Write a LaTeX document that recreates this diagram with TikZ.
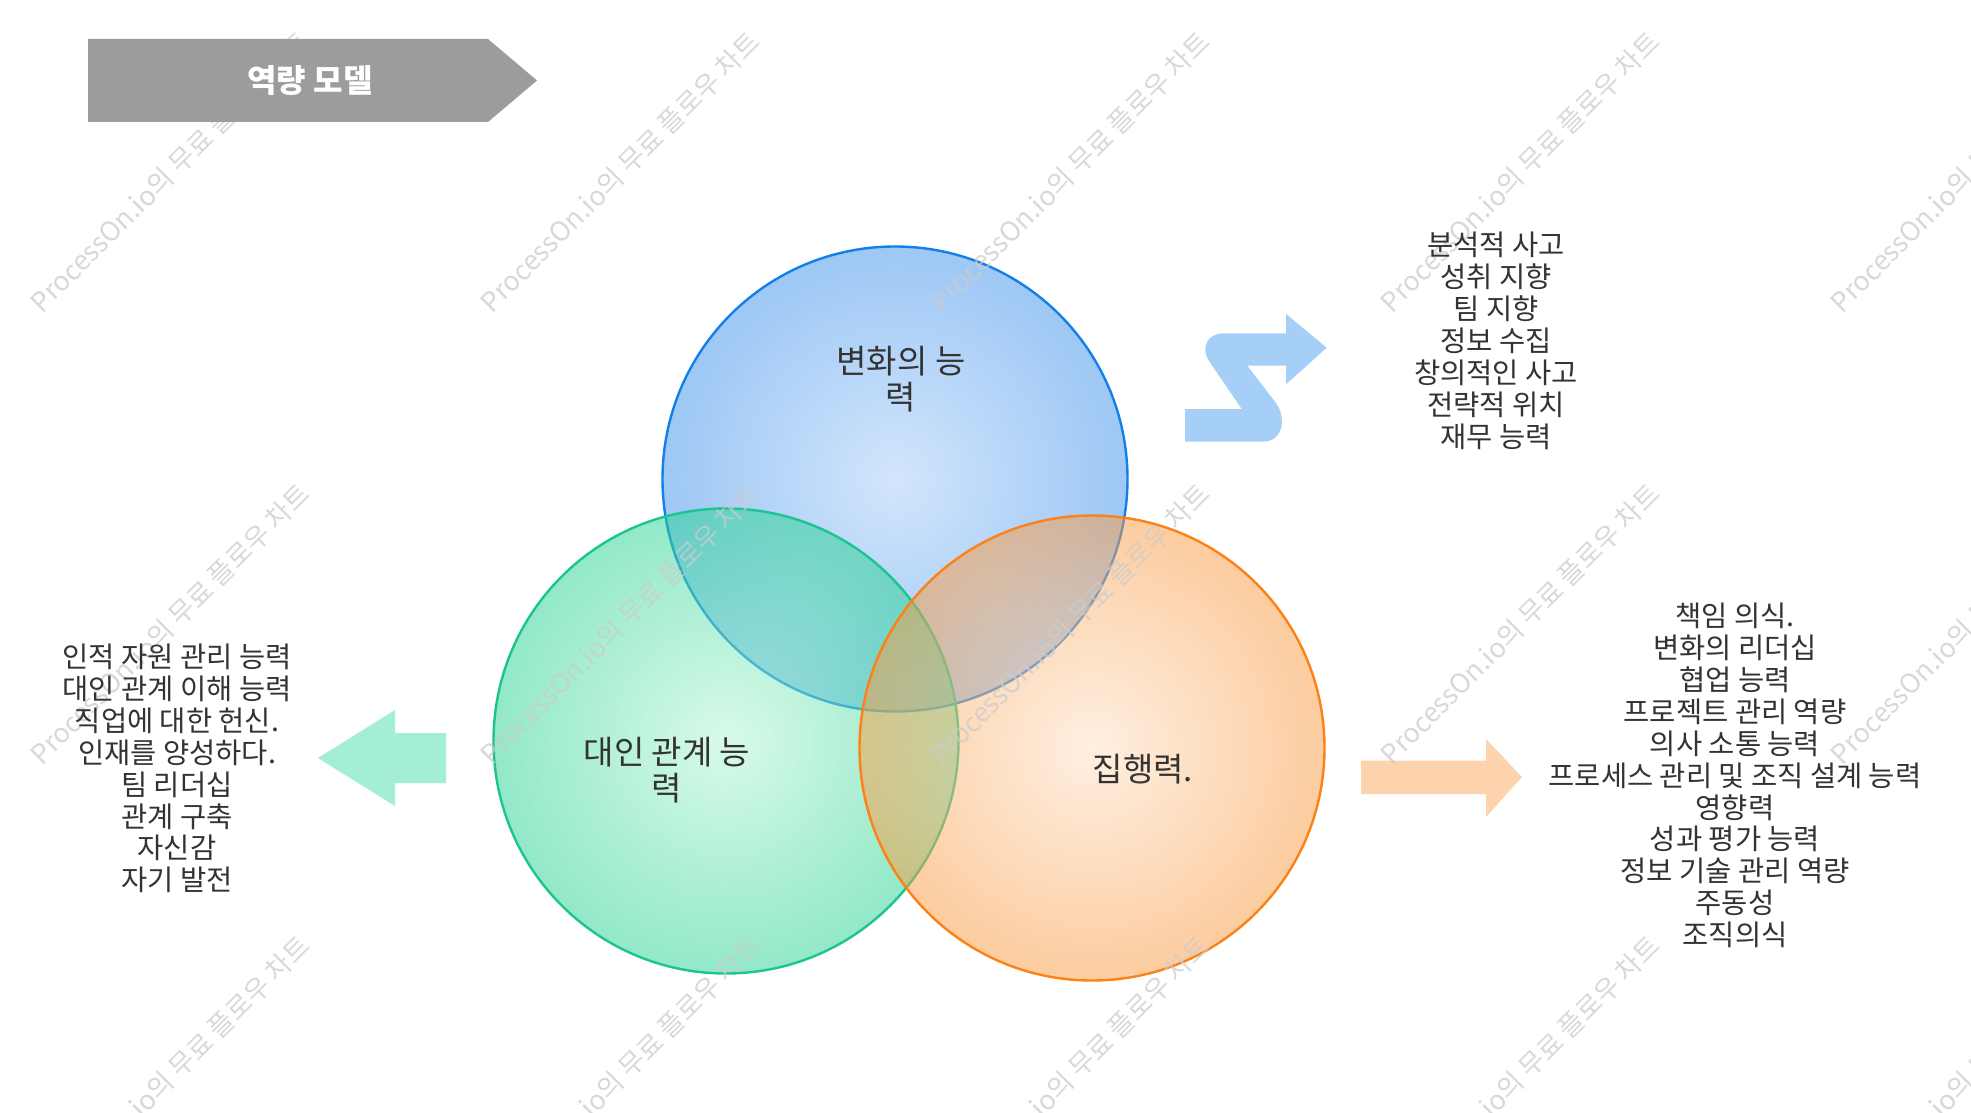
\documentclass[tikz,border=0pt]{standalone}
\usepackage{fontspec}
\setmainfont{Noto Sans CJK KR}
\definecolor{txt}{HTML}{333333}
\definecolor{bannerGray}{HTML}{9D9C9A}
\definecolor{blueIn}{HTML}{A5CDF9}
\definecolor{blueOut}{HTML}{3D91ED}
\definecolor{blueLine}{HTML}{1380E8}
\definecolor{greenIn}{HTML}{B3F7D5}
\definecolor{greenOut}{HTML}{25D391}
\definecolor{greenLine}{HTML}{1CC48F}
\definecolor{orangeIn}{HTML}{FFE1C5}
\definecolor{orangeOut}{HTML}{FB9B41}
\definecolor{orangeLine}{HTML}{FD8114}
\definecolor{sArrowCol}{HTML}{A6CFF7}
\definecolor{gArrowCol}{HTML}{A3EED4}
\definecolor{oArrowCol}{HTML}{FDD3AE}
\definecolor{wmCol}{HTML}{CCCCCC}
\begin{document}
\begin{tikzpicture}[x=1pt,y=-1pt,
  listtext/.style={text=txt, align=center, font=\fontsize{28.5}{31.9}\selectfont, inner sep=0pt},
  circlabel/.style={text=txt, align=center, font=\fontsize{33}{36.5}\selectfont, inner sep=0pt},
  venn/.style={circle, minimum size=465pt, inner sep=0pt, line width=2.4pt, fill opacity=0.5, draw opacity=1},
  watermark/.style={text=wmCol, text opacity=0.75, rotate=45, font=\fontsize{27}{30}\selectfont, inner sep=0pt},
  titletext/.style={text=white, font=\fontsize{32}{36}\selectfont\bfseries, inner sep=0pt}
]
\useasboundingbox (0,0) rectangle (1971,1113);
\fill[white] (0,0) rectangle (1971,1113);

% Venn circles
\node[venn, draw=blueLine, inner color=blueIn, outer color=blueOut] (blue) at (895,479) {};
\node[venn, draw=greenLine, inner color=greenIn, outer color=greenOut] (green) at (726,741) {};
\node[venn, draw=orangeLine, inner color=orangeIn, outer color=orangeOut] (orange) at (1092,748) {};

% arrows
\fill[sArrowCol] (1185,441.7) -- (1185,409) -- (1241.7,409) -- (1209,361)
  .. controls (1201,349) and (1206,333.3) .. (1224,333.3) -- (1286,333.3) -- (1286,314)
  -- (1326.7,347.7) -- (1286,384.3) -- (1286,365.7) -- (1247.3,365.7) -- (1275,401.7)
  .. controls (1288,419) and (1282,441.7) .. (1263,441.7) -- cycle;
\fill[gArrowCol] (318,758) -- (395,710) -- (395,733) -- (446,733) -- (446,783) -- (395,783) -- (395,806) -- cycle;
\fill[oArrowCol] (1361,760.5) -- (1486,760.5) -- (1486,739) -- (1522,777) -- (1486,817) -- (1486,794) -- (1361,794) -- cycle;

% watermarks
\foreach \i/\x in {1/170,2/620,3/1070,4/1520,5/1970}
  \foreach \j/\y in {1/172,2/624,3/1076}
    \node[watermark] (wm\i\j) at (\x,\y) {ProcessOn.io의 무료 플로우 차트};

% title banner
\fill[bannerGray] (88,39) -- (488,39) -- (537,80.5) -- (488,122) -- (88,122) -- cycle;
\node[titletext] (title) at (310,80.5) {역량 모델};

% circle labels
\node[circlabel] (blueLabel) at (901,379) {변화의 능\\력};
\node[circlabel] (greenLabel) at (667,770) {대인 관계 능\\력};
\node[circlabel] (orangeLabel) at (1143,769) {집행력.};

% lists
\node[listtext] (topList) at (1496,341) {분석적 사고\\성취 지향\\팀 지향\\정보 수집\\창의적인 사고\\전략적 위치\\재무 능력};
\node[listtext] (leftList) at (177,768.5) {인적 자원 관리 능력\\대인 관계 이해 능력\\직업에 대한 헌신.\\인재를 양성하다.\\팀 리더십\\관계 구축\\자신감\\자기 발전};
\node[listtext] (rightList) at (1735,775.5) {책임 의식.\\변화의 리더십\\협업 능력\\프로젝트 관리 역량\\의사 소통 능력\\프로세스 관리 및 조직 설계 능력\\영향력\\성과 평가 능력\\정보 기술 관리 역량\\주동성\\조직의식};
\end{tikzpicture}
\end{document}
